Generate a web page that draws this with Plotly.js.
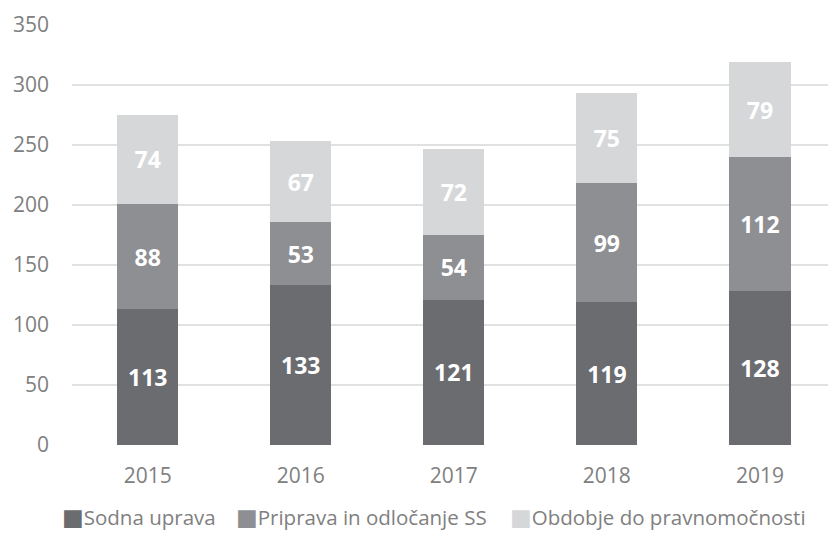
<!DOCTYPE html>
<html>
<head>
<meta charset="utf-8">
<script src="https://cdn.plot.ly/plotly-3.0.1.min.js"></script>
<style>html,body{margin:0;padding:0;background:#fff;}#chart{width:828px;height:537px;}</style>
</head>
<body>
<div id="chart"></div>
<script>
const years = ["2015", "2016", "2017", "2018", "2019"];
const seriesNames = ["Sodna uprava", "Priprava in odločanje SS", "Obdobje do pravnomočnosti"];
const sodnaUprava = [113, 133, 121, 119, 128];
const pripravaSS = [88, 53, 54, 99, 112];
const obdobjePravnomocnosti = [74, 67, 72, 75, 79];
const seriesColors = ["#6b6c70", "#8e8f92", "#d6d7d9"];
const yTicks = [0, 50, 100, 150, 200, 250, 300, 350];

const seriesValues = [sodnaUprava, pripravaSS, obdobjePravnomocnosti];
const traces = seriesValues.map((vals, i) => ({
  type: "bar",
  name: seriesNames[i],
  x: years,
  y: vals,
  text: vals.map(String),
  textposition: "inside",
  insidetextanchor: "middle",
  constraintext: "none",
  textfont: {family: "Open Sans", size: 23, color: "#ffffff", weight: "bold"},
  marker: {color: seriesColors[i], line: {width: 0}},
  width: 0.4,
  hoverinfo: "none"
}));

// legend item left edges (pixels) – layout only
const legendLeftPx = [61, 235, 509];
const plotL = 72, plotW = 756;
const legendAnns = seriesNames.map((n, i) => ({
  xref: "paper", yref: "paper",
  x: (legendLeftPx[i] - plotL) / plotW, y: -0.172,
  xanchor: "left", yanchor: "middle",
  showarrow: false,
  borderpad: 0,
  text: `<span style="color:${seriesColors[i]};font-size:23px;font-family:'DejaVu Sans'">■</span>${n}`,
  font: {family: "Open Sans", size: 20.5, color: "#808080"}
}));

const layout = {
  width: 828, height: 537,
  margin: {l: 72, r: 0, t: 25, b: 92},
  barmode: "stack",
  showlegend: false,
  paper_bgcolor: "#ffffff",
  plot_bgcolor: "#ffffff",
  font: {family: "Open Sans", color: "#808080", size: 21},
  xaxis: {
    type: "category",
    range: [-0.495, 4.445],
    showgrid: false, zeroline: false, showline: false, ticks: "",
    ticklabelstandoff: 16,
    tickfont: {family: "Open Sans", size: 21, color: "#808080"}
  },
  yaxis: {
    range: [0, 350],
    tickvals: yTicks,
    showgrid: true, gridcolor: "#e1e1e1", gridwidth: 1.3,
    zeroline: false, showline: false, ticks: "",
    ticklabelstandoff: 22,
    tickfont: {family: "Open Sans", size: 21, color: "#808080"}
  },
  annotations: legendAnns
};

Plotly.newPlot("chart", traces, layout, {displayModeBar: false, staticPlot: true});
</script>
</body>
</html>
